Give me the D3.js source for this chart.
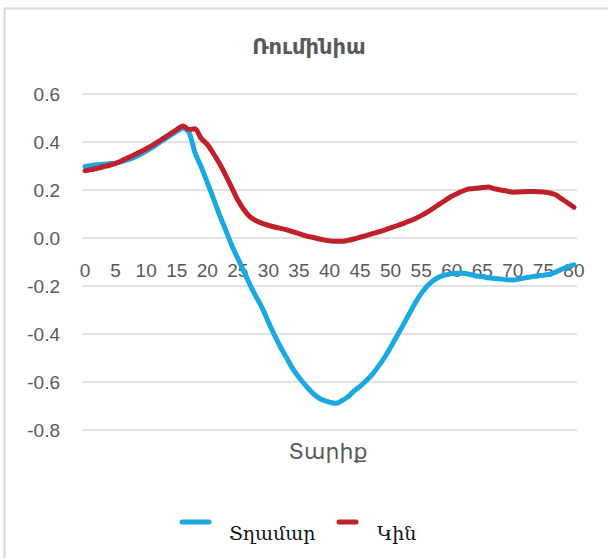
<!DOCTYPE html>
<html>
<head>
<meta charset="utf-8">
<script src="https://cdn.jsdelivr.net/npm/d3@7"></script>
<style>
  html, body { margin: 0; padding: 0; background: #fff; }
  svg { display: block; }
</style>
</head>
<body>
<script>
// Ages 0..80 and the two series
const ages = d3.range(0, 81);
const male = [
  0.298, 0.302, 0.305, 0.307, 0.310, 0.312, 0.318, 0.326, 0.336, 0.348,
  0.362, 0.378, 0.394, 0.412, 0.428, 0.444, 0.458, 0.440, 0.355, 0.297,
  0.232, 0.165, 0.096, 0.034, -0.030, -0.085, -0.140, -0.195, -0.245, -0.292,
  -0.350, -0.405, -0.455, -0.500, -0.545, -0.580, -0.612, -0.640, -0.662, -0.676,
  -0.684, -0.689, -0.678, -0.662, -0.638, -0.618, -0.595, -0.568, -0.535, -0.498,
  -0.455, -0.410, -0.365, -0.318, -0.272, -0.232, -0.200, -0.177, -0.162, -0.154,
  -0.148, -0.147, -0.147, -0.152, -0.158, -0.161, -0.166, -0.169, -0.171, -0.174,
  -0.175, -0.171, -0.166, -0.162, -0.158, -0.155, -0.151, -0.142, -0.130, -0.120,
  -0.112
];
const female = [
  0.280, 0.285, 0.290, 0.297, 0.303, 0.311, 0.322, 0.334, 0.346, 0.358,
  0.372, 0.386, 0.402, 0.418, 0.435, 0.452, 0.467, 0.452, 0.455, 0.415,
  0.390, 0.352, 0.310, 0.262, 0.210, 0.158, 0.118, 0.088, 0.072, 0.061,
  0.053, 0.046, 0.040, 0.034, 0.026, 0.018, 0.010, 0.004, -0.002, -0.008,
  -0.012, -0.014, -0.014, -0.010, -0.004, 0.003, 0.010, 0.018, 0.025, 0.033,
  0.042, 0.051, 0.060, 0.070, 0.080, 0.093, 0.108, 0.124, 0.141, 0.158,
  0.174, 0.186, 0.198, 0.205, 0.207, 0.210, 0.212, 0.205, 0.200, 0.196,
  0.191, 0.192, 0.193, 0.194, 0.193, 0.192, 0.188, 0.180, 0.163, 0.146,
  0.128
];
const yTicks = [0.6, 0.4, 0.2, 0.0, -0.2, -0.4, -0.6, -0.8];
const xTickValues = d3.range(0, 81, 5);

const title = "Ռումինիա";
const xTitle = "Տարիք";
const seriesNames = ["Տղամար", "Կին"];
const colors = ["#19a9e0", "#c0202a"];

const W = 608, H = 558;
const svg = d3.select("body").append("svg").attr("width", W).attr("height", H);

// chart frame
svg.append("rect")
  .attr("x", 4.5).attr("y", 8.5).attr("width", W + 10).attr("height", H + 10)
  .attr("fill", "#fff").attr("stroke", "#d9d9d9").attr("stroke-width", 2);

const plotLeft = 82, plotRight = 577;
const x = d3.scaleBand().domain(ages).range([plotLeft, plotRight]);
const xc = a => x(a) + x.bandwidth() / 2;
const y = d3.scaleLinear().domain([-0.8, 0.6]).range([430, 94]);

// gridlines
svg.append("g").selectAll("line").data(yTicks).join("line")
  .attr("x1", plotLeft).attr("x2", plotRight)
  .attr("y1", d => y(d)).attr("y2", d => y(d))
  .attr("stroke", "#d9d9d9").attr("stroke-width", 1.3);

// y tick labels (plain hyphen for negatives)
const fmt = d => d3.format(".1f")(d).replace("\u2212", "-");
svg.append("g").selectAll("text").data(yTicks).join("text")
  .attr("x", 60).attr("y", d => y(d)).attr("dy", "0.35em")
  .attr("text-anchor", "end")
  .attr("font-family", "Liberation Sans, Arial, sans-serif")
  .attr("font-size", 19).attr("fill", "#595959")
  .text(fmt);

// x tick labels sit along the zero line
svg.append("g").selectAll("text").data(xTickValues).join("text")
  .attr("x", d => xc(d)).attr("y", 277)
  .attr("text-anchor", "middle")
  .attr("font-family", "Liberation Sans, Arial, sans-serif")
  .attr("font-size", 19).attr("fill", "#595959")
  .text(d => d);

// series lines
const line = d3.line()
  .x((d, i) => xc(ages[i]))
  .y(d => y(d))
  .curve(d3.curveMonotoneX);

[male, female].forEach((s, k) => {
  svg.append("path")
    .datum(s)
    .attr("d", line)
    .attr("fill", "none")
    .attr("stroke", colors[k])
    .attr("stroke-width", 5)
    .attr("stroke-linejoin", "round")
    .attr("stroke-linecap", "round");
});

// title
svg.append("text")
  .attr("x", 309).attr("y", 54)
  .attr("text-anchor", "middle")
  .attr("font-family", "DejaVu Sans, sans-serif")
  .attr("font-weight", "bold")
  .attr("font-size", 21).attr("fill", "#595959")
  .text(title);

// x axis title
svg.append("text")
  .attr("x", 328).attr("y", 459)
  .attr("text-anchor", "middle")
  .attr("font-family", "DejaVu Sans, sans-serif")
  .attr("font-size", 22).attr("fill", "#595959")
  .text(xTitle);

// legend
const legend = [
  { name: seriesNames[0], color: colors[0], x1: 182, x2: 209, tx: 229 },
  { name: seriesNames[1], color: colors[1], x1: 339, x2: 356, tx: 377 }
];
const lg = svg.append("g");
legend.forEach(l => {
  lg.append("line")
    .attr("x1", l.x1).attr("x2", l.x2).attr("y1", 522).attr("y2", 522)
    .attr("stroke", l.color).attr("stroke-width", 5).attr("stroke-linecap", "round");
  lg.append("text")
    .attr("x", l.tx).attr("y", 540)
    .attr("font-family", "DejaVu Serif, serif")
    .attr("font-size", 19).attr("fill", "#111")
    .text(l.name);
});
</script>
</body>
</html>
